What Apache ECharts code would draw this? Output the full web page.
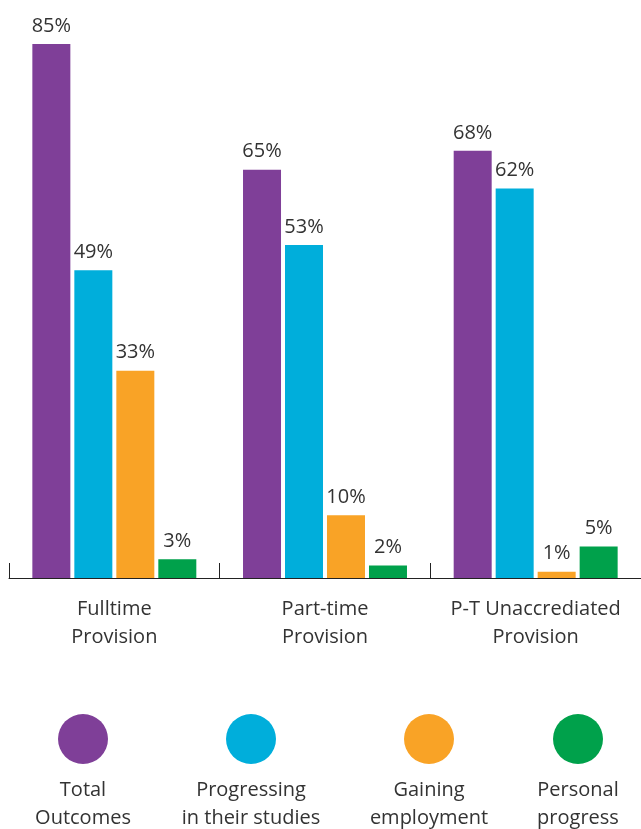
<!DOCTYPE html>
<html>
<head>
<meta charset="utf-8">
<script src="https://cdn.jsdelivr.net/npm/echarts@6/dist/echarts.min.js"></script>
<style>
  html, body { margin: 0; padding: 0; background: #fff; }
  #chart { width: 641px; height: 829px; }
</style>
</head>
<body>
<div id="chart"></div>
<script>
// data
const categories = ['Fulltime\nProvision', 'Part-time\nProvision', 'P-T Unaccrediated\nProvision'];
const seriesNames = ['Total Outcomes', 'Progressing in their studies', 'Gaining employment', 'Personal progress'];
const legendLabels = ['Total\nOutcomes', 'Progressing\nin their studies', 'Gaining\nemployment', 'Personal\nprogress'];
const totalOutcomes = [85, 65, 68];
const progressing = [49, 53, 62];
const gainingEmployment = [33, 10, 1];
const personalProgress = [3, 2, 5];

const colors = ['#7F3F98', '#00AEDB', '#F9A326', '#00A14B'];
const font = '"Open Sans", "Noto Sans", sans-serif';
const textColor = '#333';

const chart = echarts.init(document.getElementById('chart'));

// legend circle centres
const legendX = [83, 251, 429, 578];

// one legend per series so the circles can sit where the reference has them
const legends = seriesNames.map((name, i) => ({
  data: [name],
  icon: 'circle',
  itemWidth: 50,
  itemHeight: 50,
  left: legendX[i] - 25,
  top: 714,
  padding: 0,
  formatter: () => '',
  selectedMode: false
}));

// legend captions under the circles
const legendText = legendLabels.map((t, i) => ({
  type: 'text',
  x: legendX[i],
  y: 776,
  style: {
    text: t,
    align: 'center',
    verticalAlign: 'top',
    font: '20px ' + font,
    fill: textColor,
    lineHeight: 28
  }
}));

function bar(name, data, color) {
  return {
    name: name,
    type: 'bar',
    data: data,
    barWidth: 38,
    barGap: '10.5%',
    itemStyle: { color: color },
    label: {
      show: true,
      position: 'top',
      distance: 8,
      formatter: '{c}%',
      color: textColor,
      fontSize: 20,
      fontFamily: font
    }
  };
}

chart.setOption({
  animation: false,
  legend: legends,
  graphic: legendText,
  grid: { left: 9, right: 0, top: 44, bottom: 251 },
  xAxis: {
    type: 'category',
    data: categories,
    axisLine: { lineStyle: { color: '#222', width: 1 } },
    axisTick: { show: true, inside: true, length: 15, lineStyle: { color: '#222' } },
    axisLabel: {
      interval: 0,
      color: textColor,
      fontSize: 20,
      fontFamily: font,
      lineHeight: 28,
      margin: 17
    }
  },
  yAxis: {
    type: 'value',
    min: 0,
    max: 85,
    show: false
  },
  series: [
    bar(seriesNames[0], totalOutcomes, colors[0]),
    bar(seriesNames[1], progressing, colors[1]),
    bar(seriesNames[2], gainingEmployment, colors[2]),
    bar(seriesNames[3], personalProgress, colors[3])
  ]
});
</script>
</body>
</html>
